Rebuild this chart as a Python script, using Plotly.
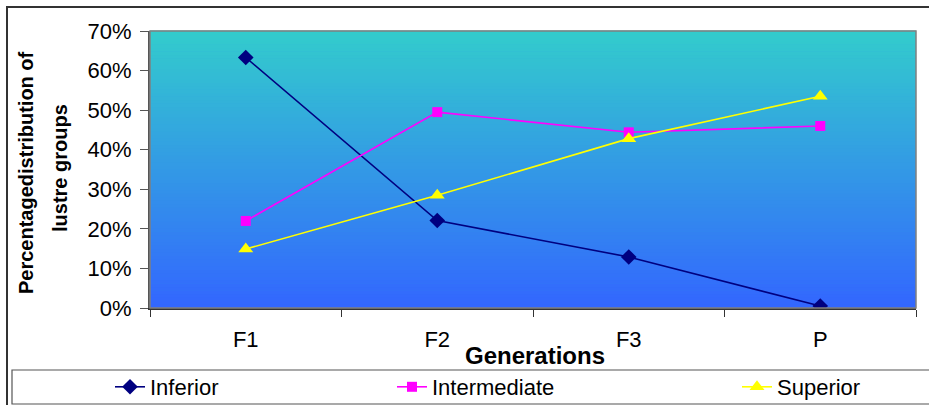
import plotly.graph_objects as go

categories = ["F1", "F2", "F3", "P"]
inferior = [0.633, 0.221, 0.129, 0.005]
intermediate = [0.220, 0.495, 0.444, 0.460]
superior = [0.149, 0.285, 0.428, 0.535]
y_ticks = [0, 0.1, 0.2, 0.3, 0.4, 0.5, 0.6, 0.7]

W, H = 929, 405
L, R, T, B = 150, 13, 31, 97
PW, PH = W - L - R, H - T - B


def px(x):
    return (x - L) / PW


def py(y):
    return (H - B - y) / PH


FAM = "Liberation Sans, Arial, sans-serif"

fig = go.Figure()
fig.add_trace(go.Scatter(x=categories, y=inferior, name="Inferior", mode="lines+markers",
                         line=dict(color="#000080", width=1.6),
                         marker=dict(symbol="diamond", size=12, color="#000080"),
                         legend="legend", showlegend=True))
fig.add_trace(go.Scatter(x=categories, y=intermediate, name="Intermediate", mode="lines+markers",
                         line=dict(color="#FF00FF", width=1.6),
                         marker=dict(symbol="square", size=10, color="#FF00FF"),
                         legend="legend2", showlegend=True))
fig.add_trace(go.Scatter(x=categories, y=superior, name="Superior", mode="lines+markers",
                         line=dict(color="#FFFF00", width=1.6),
                         marker=dict(symbol="triangle-up", size=13, color="#FFFF00"),
                         legend="legend3", showlegend=True))

shapes = []
# gradient background
N = 80
top = (51, 204, 204)
bot = (51, 102, 255)
for i in range(N):
    t = (i + 0.5) / N
    c = tuple(round(bot[k] + (top[k] - bot[k]) * t) for k in range(3))
    shapes.append(dict(type="rect", xref="paper", yref="paper", x0=0, x1=1,
                       y0=i / N, y1=(i + 1) / N + 0.002, line=dict(width=0),
                       fillcolor="rgb(%d,%d,%d)" % c, layer="below"))
# plot border (top/right)
shapes.append(dict(type="rect", xref="paper", yref="paper", x0=0, x1=1, y0=0, y1=1,
                   line=dict(color="#808080", width=1.5), layer="above"))
# outer chart border
shapes.append(dict(type="rect", xref="paper", yref="paper", x0=px(7), x1=px(940),
                   y0=py(420), y1=py(7), line=dict(color="#333333", width=2)))
# legend box
shapes.append(dict(type="rect", xref="paper", yref="paper", x0=px(12), x1=px(940),
                   y0=py(404), y1=py(370), line=dict(color="#555555", width=1.2)))

font = dict(family=FAM, size=22, color="#000000")
leg_common = dict(orientation="h", yanchor="middle", y=py(387), bgcolor="rgba(0,0,0,0)",
                  borderwidth=0, font=font, xanchor="left")

fig.update_layout(
    width=W, height=H,
    margin=dict(l=L, r=R, t=T, b=B, autoexpand=False),
    paper_bgcolor="white", plot_bgcolor="rgb(51,153,230)",
    font=font,
    shapes=shapes,
    legend=dict(x=px(110), **leg_common),
    legend2=dict(x=px(392), **leg_common),
    legend3=dict(x=px(737), **leg_common),
    xaxis=dict(type="category", categoryorder="array", categoryarray=categories,
               range=[-0.5, 3.5], tickson="boundaries", ticks="outside", ticklen=7,
               tickcolor="#333333", showline=True, linecolor="#333333", linewidth=2,
               showgrid=False, zeroline=False, ticklabelstandoff=11,
               tickfont=font),
    yaxis=dict(range=[0, 0.7], tickvals=y_ticks, tickformat=".0%", ticks="outside",
               ticklen=8, tickcolor="#555555", showline=True, linecolor="#555555", linewidth=2,
               showgrid=False, zeroline=False, tickfont=font, ticklabelstandoff=4),
    annotations=[
        dict(text="<b>Generations</b>", xref="paper", yref="paper", x=px(535), y=py(355),
             xanchor="center", yanchor="middle", showarrow=False,
             font=dict(family=FAM, size=24, color="#000")),
        dict(text="<b>Percentagedistribution of</b>", xref="paper", yref="paper",
             x=px(26), y=py(173), xanchor="center", yanchor="middle", textangle=-90,
             showarrow=False,
             font=dict(family=FAM, size=20, color="#000")),
        dict(text="<b>lustre groups</b>", xref="paper", yref="paper",
             x=px(60), y=py(168), xanchor="center", yanchor="middle", textangle=-90,
             showarrow=False,
             font=dict(family=FAM, size=20, color="#000")),
    ],
)

fig.write_html("out.html")
